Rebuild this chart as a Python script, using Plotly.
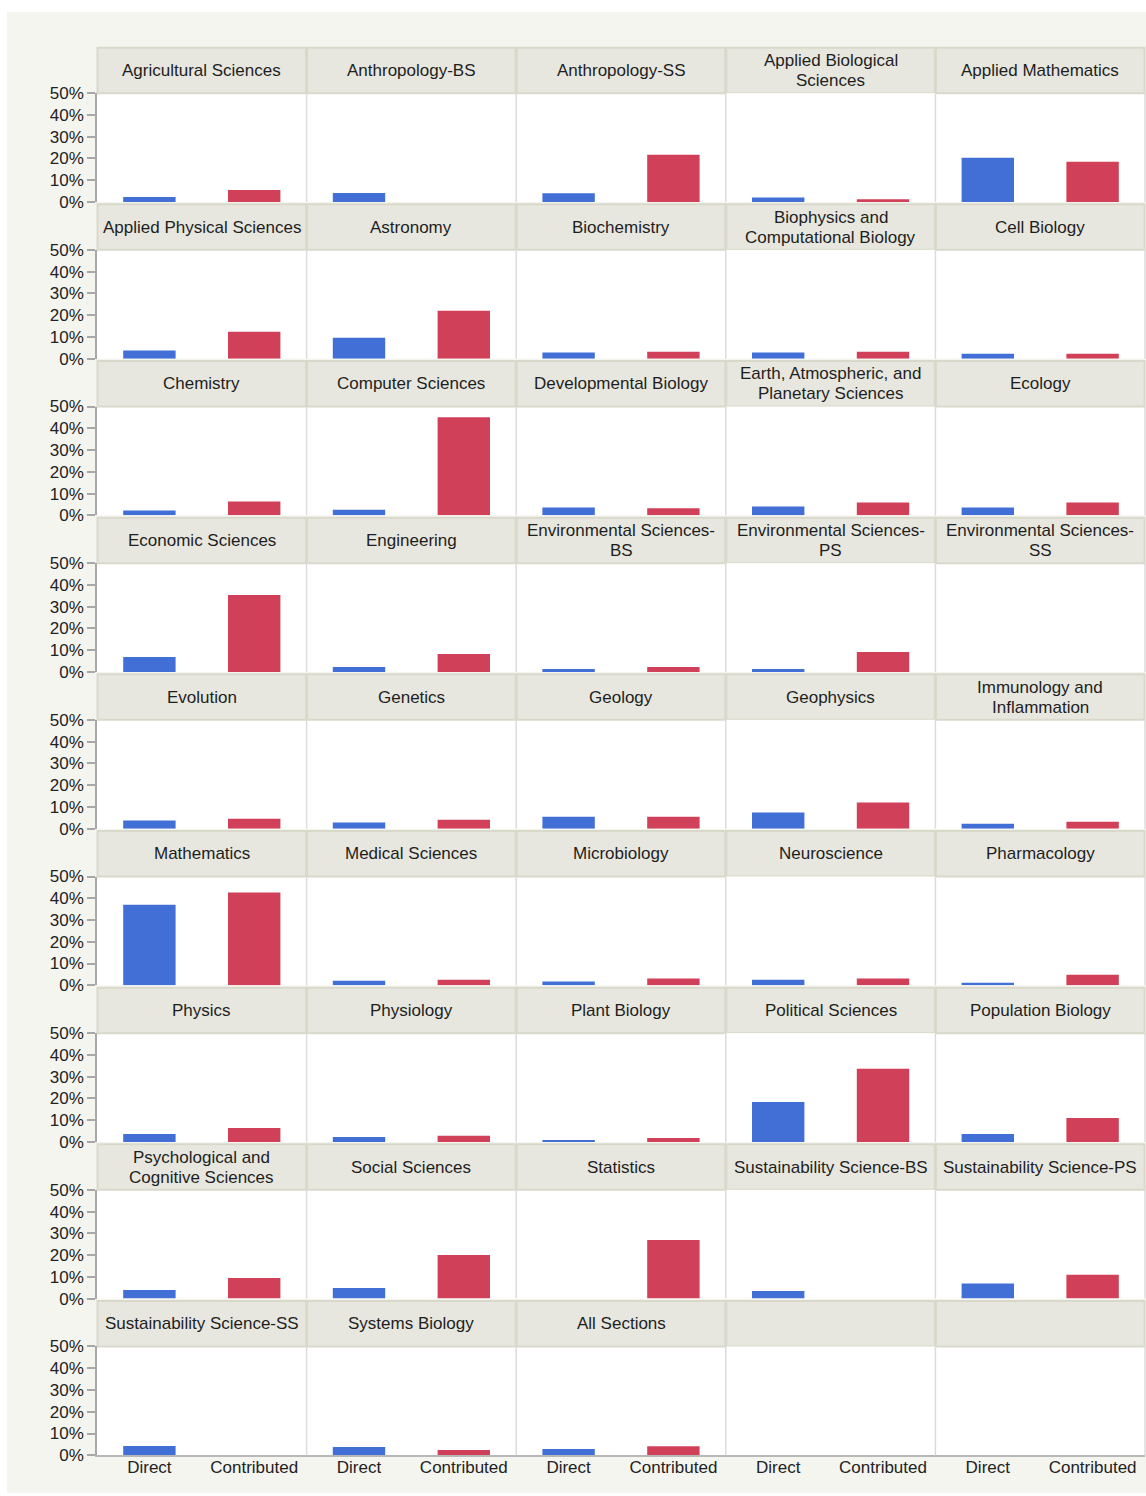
import plotly.graph_objects as go

sections = [
    "Agricultural Sciences", "Anthropology-BS", "Anthropology-SS", "Applied Biological<br>Sciences", "Applied Mathematics",
    "Applied Physical Sciences", "Astronomy", "Biochemistry", "Biophysics and<br>Computational Biology", "Cell Biology",
    "Chemistry", "Computer Sciences", "Developmental Biology", "Earth, Atmospheric, and<br>Planetary Sciences", "Ecology",
    "Economic Sciences", "Engineering", "Environmental Sciences-<br>BS", "Environmental Sciences-<br>PS", "Environmental Sciences-<br>SS",
    "Evolution", "Genetics", "Geology", "Geophysics", "Immunology and<br>Inflammation",
    "Mathematics", "Medical Sciences", "Microbiology", "Neuroscience", "Pharmacology",
    "Physics", "Physiology", "Plant Biology", "Political Sciences", "Population Biology",
    "Psychological and<br>Cognitive Sciences", "Social Sciences", "Statistics", "Sustainability Science-BS", "Sustainability Science-PS",
    "Sustainability Science-SS", "Systems Biology", "All Sections", "", "",
]

direct = [
    2.3, 4.1, 4.0, 2.1, 20.3,
    3.7, 9.6, 2.8, 2.8, 2.3,
    2.2, 2.6, 3.6, 4.1, 3.6,
    6.9, 2.3, 1.4, 1.4, 0,
    3.7, 2.8, 5.5, 7.4, 2.3,
    37.0, 2.1, 1.7, 2.6, 1.2,
    3.7, 2.3, 0.9, 18.4, 3.7,
    4.0, 4.9, 0, 3.5, 6.9,
    4.3, 3.8, 2.9, None, None,
]

contributed = [
    5.5, 0, 21.7, 1.3, 18.5,
    12.4, 22.0, 3.2, 3.2, 2.3,
    6.3, 45.1, 3.2, 5.9, 5.9,
    35.4, 8.3, 2.3, 9.2, 0,
    4.6, 4.1, 5.5, 12.0, 3.2,
    42.7, 2.6, 3.1, 3.1, 4.9,
    6.4, 2.8, 1.8, 33.6, 11.0,
    9.5, 20.0, 26.9, 0, 11.0,
    0, 2.4, 4.1, None, None,
]

categories = ["Direct", "Contributed"]
y_ticks = [0, 10, 20, 30, 40, 50]
y_ticktext = ["0%", "10%", "20%", "30%", "40%", "50%"]

BLUE = "#416fd5"
RED = "#d04058"
W, H = 1146, 1496
NCOL, NROW = 5, 9
X0, X1 = 97.0, 1145.0
CW = (X1 - X0) / NCOL
BOT0 = 202.0
PITCH = 156.66
PH = 108.8
STRIP_H = 45.5
LINE_GAP = 20.0
FONT = "Liberation Sans, Arial, sans-serif"

def px(x):
    return x / W

def py(y):
    return 1 - y / H

fig = go.Figure()
shapes = []
annotations = []

# white page edges around the light background box
for (a, b, c, d) in [(0, 7, 0, H), (0, W, 0, 12), (0, W, 1493, H)]:
    shapes.append(dict(type="rect", xref="paper", yref="paper", x0=px(a), x1=px(b), y0=py(d), y1=py(c),
                       fillcolor="white", line=dict(width=0), layer="below"))

layout_axes = {}
for i in range(NROW * NCOL):
    r, c = divmod(i, NCOL)
    n = i + 1
    xl = X0 + c * CW
    xr = xl + CW
    bot = BOT0 + r * PITCH
    top = bot - PH
    stop = top - STRIP_H
    d = direct[i]
    cv = contributed[i]
    fig.add_trace(go.Bar(
        x=categories,
        y=[d if d is not None else 0, cv if cv is not None else 0],
        marker=dict(color=[BLUE, RED], line=dict(width=0)),
        xaxis=f"x{n}", yaxis=f"y{n}", showlegend=False,
        hovertemplate="%{x}: %{y:.1f}%<extra></extra>",
    ))
    xa = dict(domain=[px(xl), px(xr)], anchor=f"y{n}", type="category",
              categoryorder="array", categoryarray=categories,
              range=[-0.5, 1.5], showgrid=False, zeroline=False, fixedrange=True,
              automargin=False,
              showticklabels=(r == NROW - 1), ticks="", ticklabelstandoff=-4,
              tickfont=dict(family=FONT, size=17, color="#222222"),
              showline=(r == NROW - 1), linecolor="#b8b8b8", linewidth=1.5)
    ya = dict(domain=[py(bot), py(top)], anchor=f"x{n}", range=[0, 50],
              tickmode="array", tickvals=y_ticks, ticktext=y_ticktext,
              showgrid=False, zeroline=False, automargin=False,
              fixedrange=True, showticklabels=(c == 0),
              ticks="outside" if c == 0 else "", ticklen=8, tickcolor="#a8a8a8", tickwidth=1.5,
              tickfont=dict(family=FONT, size=17, color="#222222"),
              showline=(c == 0), linecolor="#a8a8a8", linewidth=1.5)
    key = "" if n == 1 else str(n)
    layout_axes["xaxis" + key] = xa
    layout_axes["yaxis" + key] = ya

    # strip header
    shapes.append(dict(type="rect", xref="paper", yref="paper",
                       x0=px(xl + 0.5), x1=px(xr - 0.5), y0=py(top), y1=py(stop),
                       fillcolor="#e7e7df", line=dict(color="#d9d9cb", width=2), layer="below"))
    # panel separators
    shapes.append(dict(type="line", xref="paper", yref="paper",
                       x0=px(xr), x1=px(xr), y0=py(bot), y1=py(top),
                       line=dict(color="#dcdcdc", width=1.5), layer="above"))
    if sections[i]:
        lines = sections[i].split("<br>")
        cy = (stop + top) / 2
        k = len(lines)
        for j, line in enumerate(lines):
            ly = cy + (j - (k - 1) / 2) * LINE_GAP
            annotations.append(dict(text=line, xref="paper", yref="paper",
                                    x=px((xl + xr) / 2), y=py(ly),
                                    xanchor="center", yanchor="middle", showarrow=False,
                                    font=dict(family=FONT, size=17, color="#1e1e1e")))

fig.update_layout(
    width=W, height=H,
    autosize=False,
    margin=dict(l=0, r=0, t=0, b=0, pad=0, autoexpand=False),
    paper_bgcolor="#f5f5f0", plot_bgcolor="white",
    bargap=0.5,
    shapes=shapes, annotations=annotations,
    font=dict(family=FONT, size=17, color="#222222"),
    **layout_axes,
)

fig.write_html("out.html",
               config={"displayModeBar": False},
               post_script="document.body.style.margin='0';document.body.style.overflow='hidden';")
